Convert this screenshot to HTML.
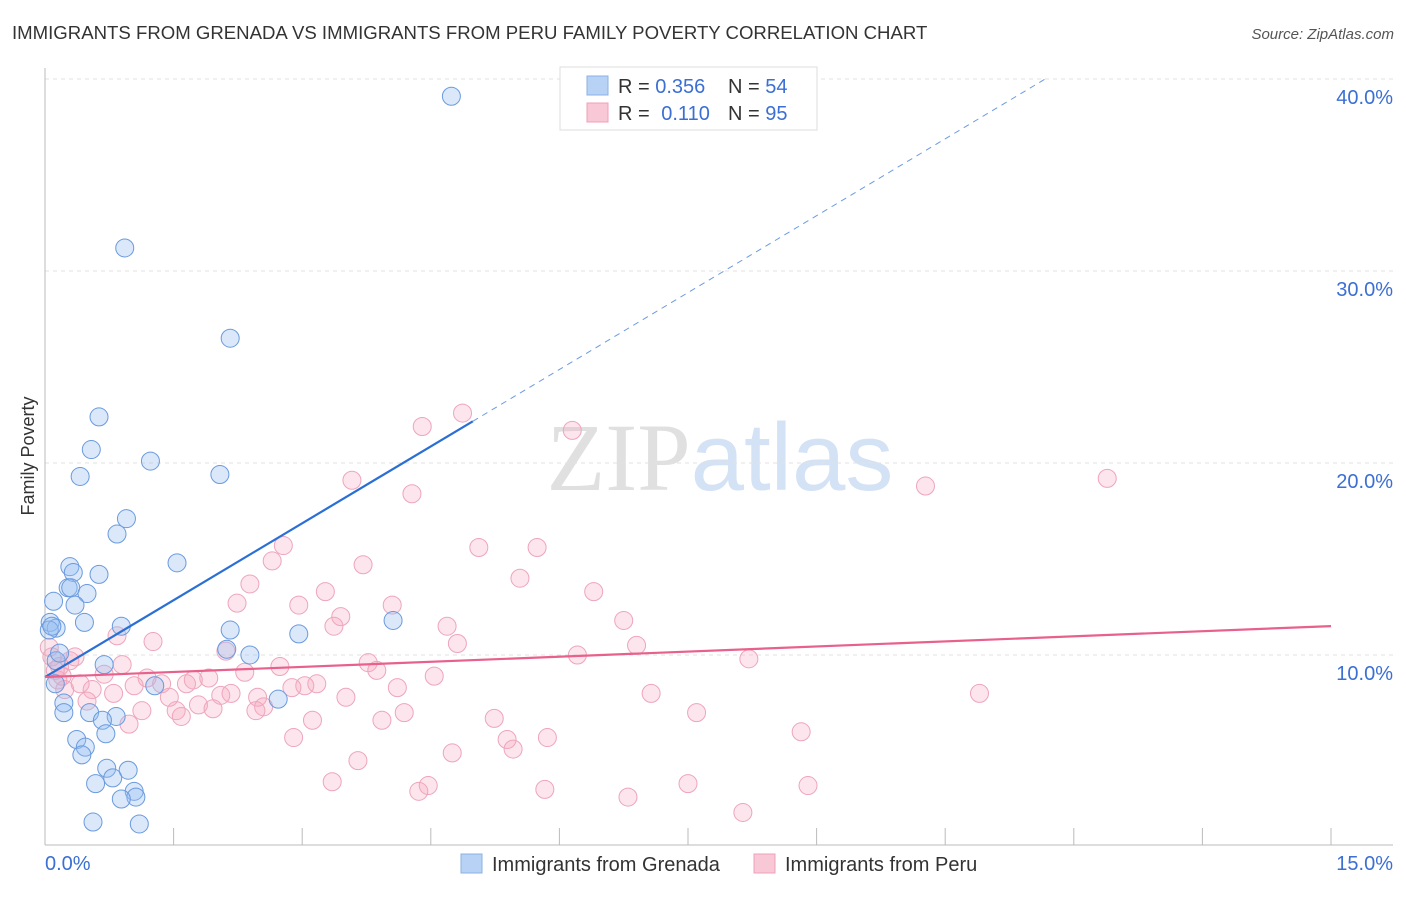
<!DOCTYPE html>
<html><head><meta charset="utf-8"><style>
body{margin:0;background:#fff;font-family:"Liberation Sans",sans-serif;}
svg text{font-family:"Liberation Sans",sans-serif;}
</style></head><body>
<svg id="chart" width="1406" height="892" xmlns="http://www.w3.org/2000/svg">
<text x="12" y="39" font-size="18.6" fill="#333">IMMIGRANTS FROM GRENADA VS IMMIGRANTS FROM PERU FAMILY POVERTY CORRELATION CHART</text>
<text x="1394" y="39" font-size="15" fill="#555" text-anchor="end" font-style="italic">Source: ZipAtlas.com</text>
<text x="720" y="490" font-size="96" text-anchor="middle"><tspan fill="#e0e0e0" font-family="Liberation Serif">ZIP</tspan><tspan fill="#d4e2f5">atlas</tspan></text>
<g id="grid"></g>
<g id="axes"></g>
<g id="marks"></g>
<text transform="translate(34,456) rotate(-90)" font-size="18" fill="#333" text-anchor="middle">Family Poverty</text>
<g>
<rect x="560" y="67" width="257" height="63" fill="#fff" stroke="#ddd"/>
<rect x="587" y="76" width="21" height="19" fill="#b8d2f6" stroke="#8ab0e6"/>
<rect x="587" y="103" width="21" height="19" fill="#f9c8d6" stroke="#f0a0b8"/>
<text x="618" y="93" font-size="20" fill="#333">R = <tspan fill="#3b6fd4">0.356</tspan></text>
<text x="728" y="93" font-size="20" fill="#333">N = <tspan fill="#3b6fd4">54</tspan></text>
<text x="618" y="120" font-size="20" fill="#333">R = <tspan fill="#3b6fd4" dx="6">0.110</tspan></text>
<text x="728" y="120" font-size="20" fill="#333">N = <tspan fill="#3b6fd4">95</tspan></text>
</g>
<g>
<rect x="461" y="854" width="21" height="19" fill="#b8d2f6" stroke="#8ab0e6"/>
<text x="492" y="871" font-size="20" fill="#333">Immigrants from Grenada</text>
<rect x="754" y="854" width="21" height="19" fill="#f9c8d6" stroke="#f0a0b8"/>
<text x="785" y="871" font-size="20" fill="#333">Immigrants from Peru</text>
</g>
</svg>
<script>
const yTicks=[10,20,30,40];
const yTickLabels=["10.0%","20.0%","30.0%","40.0%"];
const xTickLabels=["0.0%","15.0%"];
const grenadaX=[4.74,0.93,2.16,0.63,0.54,1.23,0.41,2.04,0.95,0.84,1.54,0.29,0.33,0.63,0.27,0.30,0.49,0.10,0.35,0.06,0.13,0.05,0.46,0.89,2.16,2.96,4.06,0.13,0.17,0.69,2.12,2.39,1.28,0.12,2.72,0.22,0.22,0.52,0.83,0.67,0.71,0.37,0.47,0.43,0.72,0.97,0.79,0.59,1.04,1.06,0.89,0.56,1.10,0.08];
const grenadaY=[39.1,31.2,26.5,22.4,20.7,20.1,19.3,19.4,17.1,16.3,14.8,14.6,14.3,14.2,13.5,13.5,13.2,12.8,12.6,11.7,11.4,11.3,11.7,11.5,11.3,11.1,11.8,9.7,10.1,9.5,10.3,10.0,8.4,8.5,7.7,7.5,7.0,7.0,6.8,6.6,5.9,5.6,5.2,4.8,4.1,4.0,3.6,3.3,2.9,2.6,2.5,1.3,1.2,11.5];
const peruX=[4.87,4.40,6.15,12.39,10.27,3.58,4.28,5.06,5.74,2.78,2.65,3.71,5.54,2.39,6.40,3.27,2.24,2.96,4.05,3.45,6.75,3.37,4.69,0.84,1.26,4.81,6.90,2.11,6.21,8.21,0.08,0.29,0.17,3.77,0.90,2.74,3.87,2.33,0.69,1.19,1.91,4.54,1.73,1.36,0.41,3.17,3.03,1.65,1.04,2.88,0.55,4.11,2.17,2.05,0.80,2.48,3.51,1.45,7.07,10.90,1.79,0.49,2.55,1.96,2.46,1.13,1.53,1.59,4.19,7.60,3.12,3.93,5.24,0.98,8.82,2.90,5.39,5.86,5.46,4.75,3.65,3.35,4.47,4.36,5.83,7.50,8.90,6.80,8.14,0.12,0.15,0.23,0.05,0.35,0.20];
const peruY=[22.6,21.9,21.7,19.2,18.8,19.1,18.4,15.6,15.6,15.7,14.9,14.7,14.0,13.7,13.3,13.3,12.7,12.6,12.6,12.0,11.8,11.5,11.5,11.0,10.7,10.6,10.5,10.2,10.0,9.8,9.9,9.7,9.4,9.6,9.5,9.4,9.2,9.1,9.0,8.8,8.8,8.9,8.7,8.5,8.5,8.5,8.4,8.5,8.4,8.3,8.2,8.3,8.0,7.9,8.0,7.8,7.8,7.8,8.0,8.0,7.4,7.6,7.3,7.2,7.1,7.1,7.1,6.8,7.0,7.0,6.6,6.6,6.7,6.4,6.0,5.7,5.6,5.7,5.1,4.9,4.5,3.4,3.2,2.9,3.0,3.3,3.2,2.6,1.8,9.2,8.7,8.2,10.4,9.9,8.9];
const grenadaFit=[8.85,2.67];
const peruFit=[8.85,0.177];
const NS="http://www.w3.org/2000/svg";
const X0=45,X1=1331,Y0=847,PXY=19.2;
function xs(v){return X0+(X1-X0)*v/15;}
function ys(v){return Y0-v*PXY;}
function mk(tag,attrs,parent){const e=document.createElementNS(NS,tag);for(const k in attrs)e.setAttribute(k,attrs[k]);parent.appendChild(e);return e;}
const grid=document.getElementById('grid'),axes=document.getElementById('axes'),marks=document.getElementById('marks');
yTicks.forEach((t,i)=>{
 const l=mk('line',{x1:X0,x2:1393,y1:ys(t),y2:ys(t),stroke:'#e2e2e2','stroke-dasharray':'4,4'},grid);
 
 
 const tx=mk('text',{x:1393,y:ys(t)+25,'font-size':20,fill:'#3b6fd4','text-anchor':'end'},axes);
 tx.textContent=yTickLabels[i];
 
 
});
const ax=mk('line',{x1:X0,x2:X0,y1:68,y2:845,stroke:'#bbb'},axes);


const bx=mk('line',{x1:X0,x2:1393,y1:845,y2:845,stroke:'#bbb'},axes);


for(let i=1;i<=10;i++){const t=mk('line',{x1:xs(i*1.5),x2:xs(i*1.5),y1:828,y2:845,stroke:'#bbb'},axes);
 
 }
const xl0=mk('text',{x:45,y:870,'font-size':20,fill:'#3b6fd4'},axes);xl0.textContent=xTickLabels[0];


const xl1=mk('text',{x:1393,y:870,'font-size':20,fill:'#3b6fd4','text-anchor':'end'},axes);xl1.textContent=xTickLabels[1];


peruX.forEach((v,i)=>{const c=mk('circle',{cx:xs(v),cy:ys(peruY[i]),r:9,fill:'rgba(246,170,192,0.3)',stroke:'#eea5bb','stroke-width':1},marks);
 
 });
grenadaX.forEach((v,i)=>{const c=mk('circle',{cx:xs(v),cy:ys(grenadaY[i]),r:9,fill:'rgba(150,190,240,0.35)',stroke:'#6a9ade','stroke-width':1},marks);
 
 });
const gEnd=4.99,gDash=(40-grenadaFit[0])/grenadaFit[1];
const gl=mk('line',{x1:xs(0),y1:ys(grenadaFit[0]),x2:xs(gEnd),y2:ys(grenadaFit[0]+grenadaFit[1]*gEnd),stroke:'#2a6fd6','stroke-width':2.2},marks);


const gd=mk('line',{x1:xs(gEnd),y1:ys(grenadaFit[0]+grenadaFit[1]*gEnd),x2:xs(gDash),y2:ys(40),stroke:'#6c9be0','stroke-width':1,'stroke-dasharray':'6,5'},marks);


const pl=mk('line',{x1:xs(0),y1:ys(peruFit[0]),x2:xs(15),y2:ys(peruFit[0]+peruFit[1]*15),stroke:'#e8608c','stroke-width':2.2},marks);


</script>
</body></html>
